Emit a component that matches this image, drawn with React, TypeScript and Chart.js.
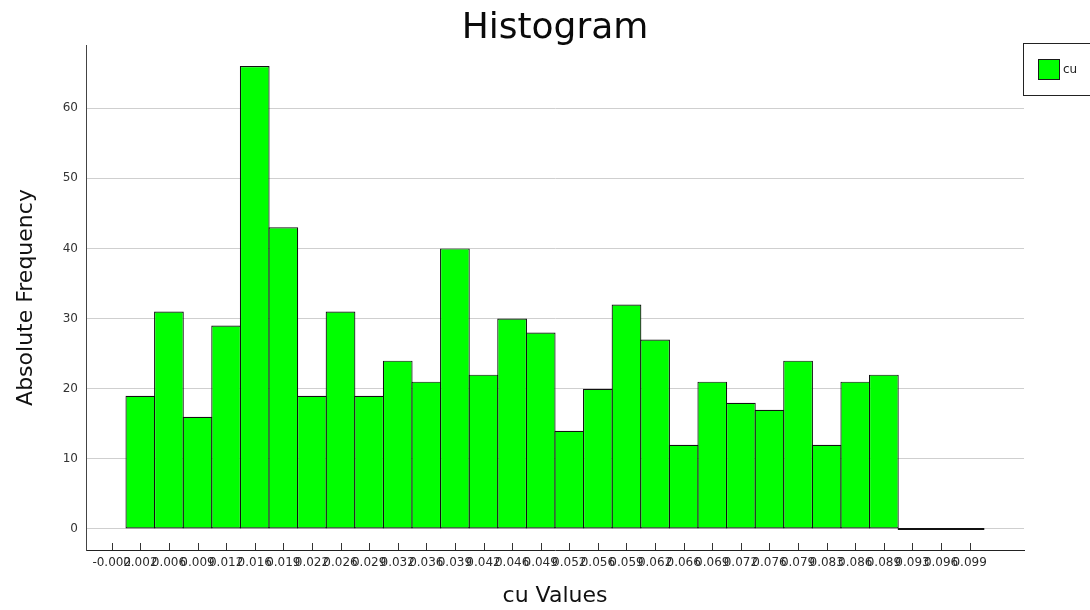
import { useEffect, useRef } from 'react';
import { Chart, registerables } from 'chart.js';

Chart.register(...registerables);

// Bin labels along the x axis (tick positions 0..30)
const binLabels: string[] = [
  '-0.002', '0.002', '0.006', '0.009', '0.012', '0.016', '0.019', '0.022', '0.026', '0.029',
  '0.032', '0.036', '0.039', '0.042', '0.046', '0.049', '0.052', '0.056', '0.059', '0.062',
  '0.066', '0.069', '0.072', '0.076', '0.079', '0.083', '0.086', '0.089', '0.093', '0.096', '0.099',
];

// Absolute frequency for the bins at label positions 1..30
const counts: number[] = [
  19, 31, 16, 29, 66, 43, 19, 31, 19, 24,
  21, 40, 22, 30, 28, 14, 20, 32, 27, 12,
  21, 18, 17, 24, 12, 21, 22, 0, 0, 0,
];

const yTickValues: number[] = [0, 10, 20, 30, 40, 50, 60];
const seriesName = 'cu';
const chartTitle = 'Histogram';
const xTitle = 'cu Values';
const yTitle = 'Absolute Frequency';

const FONT = '"DejaVu Sans", Tahoma, Verdana, sans-serif';

export default function App() {
  const canvasRef = useRef<HTMLCanvasElement | null>(null);

  useEffect(() => {
    const canvas = canvasRef.current;
    if (!canvas) return;

    const innerTicks = {
      id: 'innerTicks',
      afterDraw(chart: any) {
        const xs = chart.scales.x;
        const bottom = chart.chartArea.bottom;
        const c = chart.ctx;
        c.save();
        c.strokeStyle = '#333333';
        c.lineWidth = 1;
        c.beginPath();
        xs.ticks.forEach((_t: any, i: number) => {
          const px = Math.round(xs.getPixelForTick(i)) + 0.5;
          c.moveTo(px, bottom);
          c.lineTo(px, bottom - 7);
        });
        c.stroke();
        c.restore();
      },
    };

    const boxLegend = {
      id: 'boxLegend',
      afterDraw(chart: any) {
        const c = chart.ctx;
        const ds = chart.data.datasets[0];
        c.save();
        c.strokeStyle = '#222222';
        c.lineWidth = 1;
        c.strokeRect(1023.5, 43.5, 90, 52);
        c.fillStyle = ds.backgroundColor;
        c.fillRect(1038, 59, 22, 21);
        c.strokeStyle = '#1a1a1a';
        c.strokeRect(1038.5, 59.5, 21, 20);
        c.fillStyle = '#222222';
        c.font = `12px ${FONT}`;
        c.textBaseline = 'middle';
        c.textAlign = 'left';
        c.fillText(ds.label, 1063, 70);
        c.restore();
      },
    };

    const chart = new Chart(canvas, {
      type: 'bar',
      data: {
        datasets: [
          {
            label: seriesName,
            data: counts.map((v, i) => ({ x: i + 1, y: v })),
            backgroundColor: '#00ff00',
            borderColor: '#111111',
            borderWidth: 1.2,
            borderSkipped: false,
            barPercentage: 1.04,
            categoryPercentage: 1,
            minBarLength: 2,
          },
        ],
      },
      options: {
        animation: false,
        responsive: false,
        maintainAspectRatio: false,
        layout: { padding: { left: 0, right: 66, top: 0, bottom: 0 } },
        plugins: {
          legend: { display: false },
          tooltip: { enabled: false },
          title: {
            display: true,
            text: chartTitle,
            fullSize: false,
            color: '#0a0a0a',
            font: { family: FONT, size: 36, weight: 'normal', lineHeight: 0.889 },
            padding: { top: 13, bottom: 0 },
          },
        },
        scales: {
          x: {
            type: 'linear',
            min: -0.9,
            max: 31.9,
            offset: false,
            grid: { display: false, drawTicks: false, offset: false },
            border: { display: true, color: '#222222', width: 1 },
            afterBuildTicks: (scale: any) => {
              scale.ticks = binLabels.map((_l, i) => ({ value: i }));
            },
            afterFit: (scale: any) => {
              scale.height = 60;
            },
            ticks: {
              autoSkip: false,
              maxRotation: 0,
              minRotation: 0,
              padding: 6,
              color: '#2a2a2a',
              font: { family: FONT, size: 12 },
              callback: (value: any) => binLabels[Math.round(value)] ?? '',
            },
            title: {
              display: true,
              text: xTitle,
              color: '#111111',
              font: { family: FONT, size: 22 },
              padding: { top: 0, bottom: 1 },
            },
          },
          y: {
            type: 'linear',
            min: -3,
            max: 69,
            grid: { display: true, color: '#cfcfcf', lineWidth: 1, drawTicks: false },
            border: { display: true, color: '#444444', width: 1 },
            afterBuildTicks: (scale: any) => {
              scale.ticks = yTickValues.map((v) => ({ value: v }));
            },
            afterFit: (scale: any) => {
              scale.width = 86;
            },
            ticks: {
              padding: 8,
              color: '#333333',
              font: { family: FONT, size: 12 },
            },
            title: {
              display: true,
              text: yTitle,
              color: '#111111',
              font: { family: FONT, size: 22 },
              padding: { top: 13, bottom: 0 },
            },
          },
        },
      },
      plugins: [innerTicks, boxLegend],
    } as any);

    return () => {
      chart.destroy();
    };
  }, []);

  return (
    <div style={{ position: 'fixed', left: 0, top: 0, width: 1090, height: 610, background: '#ffffff' }}>
      <canvas ref={canvasRef} width={1090} height={610} style={{ width: 1090, height: 610 }} />
    </div>
  );
}
